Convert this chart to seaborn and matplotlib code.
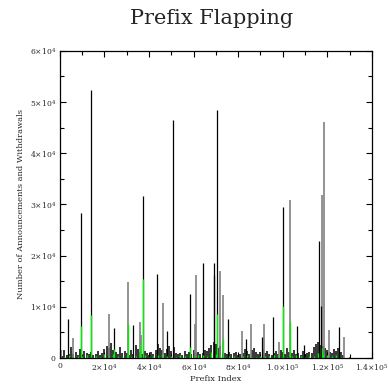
import numpy as np
import matplotlib
matplotlib.use("Agg")
import matplotlib.pyplot as plt
import seaborn as sns
from matplotlib.ticker import MultipleLocator

# background activity, one value per 1000 prefixes (0 .. 127000)
noise = [
    900, 400, 1500, 600, 800, 2200, 700, 1200, 500, 1800,
    600, 1400, 900, 700, 1100, 500, 800, 1300, 600, 1000,
    1700, 2400, 1900, 3000, 1500, 1200, 800, 2100, 900, 1400,
    1000, 600, 1600, 800, 2500, 1800, 1100, 700, 1300, 900,
    600, 1200, 800, 1500, 2700, 2000, 1600, 900, 1800, 2300,
    1400, 2200, 1000, 700, 900, 600, 1300, 800, 1100, 700,
    1500, 900, 1200, 800, 1000, 1600, 1400, 2000, 2600, 3200,
    2800, 1900, 2400, 1300, 1000, 800, 1200, 700, 900, 1100,
    600, 800, 1000, 1800, 1300, 700, 1500, 2000, 1100, 800,
    1200, 1700, 900, 1400, 800, 600, 1000, 1300, 700, 1600,
    1100, 800, 1900, 1200, 900, 1500, 700, 1000, 600, 1300,
    800, 900, 1200, 1000, 2200, 2800, 3100, 2600, 2400, 2000,
    1500, 1200, 900, 1700, 1400, 2000, 1100, 600,
]
noise_idx = np.arange(len(noise)) * 1000

# green background, one value per 2000 prefixes
green = [
    300, 200, 500, 250, 400, 350, 600, 300, 450, 200,
    800, 400, 700, 350, 300, 500, 250, 400, 900, 600,
    300, 450, 500, 700, 400, 350, 300, 550, 400, 300,
    350, 600, 500, 400, 1100, 800, 500, 300, 450, 350,
    300, 400, 500, 250, 300, 450, 400, 350, 500, 600,
    400, 300, 350, 500, 450, 300, 400, 350, 900, 700,
    500, 400, 600, 300,
]
green_idx = np.arange(len(green)) * 2000

# large spikes
black_x = [3740, 9270, 13760, 24380, 32900, 37390, 43370, 47860, 50550,
           58480, 64020, 69100, 69300, 70600, 75530, 83460, 90490, 95720,
           99920, 106200, 109340, 116220, 117100, 125340, 129800]
black_y = [7600, 28240, 52350, 5800, 6470, 31630, 16400, 5300, 46400,
           12550, 18560, 16270, 18560, 48500, 7650, 3700, 4180, 8100,
           29540, 6270, 2500, 22940, 10070, 6140, 300]

gray_x = [300, 5680, 22000, 30360, 35900, 36300, 46070, 60430, 61020,
          71800, 73300, 81660, 85700, 91540, 98270, 103200, 117700,
          118460, 120850, 127430]
gray_y = [1500, 3900, 8560, 14770, 7100, 4500, 10720, 6670, 16210,
          16930, 12350, 5300, 6670, 6670, 3200, 30790, 31760,
          46010, 5490, 4180]

green_x = [9270, 13760, 24300, 30360, 36000, 37390, 58480, 70600, 73300,
           99920, 103200, 117700]
green_y = [6270, 8430, 1700, 6670, 2800, 15490, 2200, 8630, 3700,
           10200, 7000, 2000]

x_ticks = [0, 20000, 40000, 60000, 80000, 100000, 120000, 140000]
x_labels = ["0", r"$2{\times}10^4$", r"$4{\times}10^4$", r"$6{\times}10^4$",
            r"$8{\times}10^4$", r"$1.0{\times}10^5$", r"$1.2{\times}10^5$",
            r"$1.4{\times}10^5$"]
y_ticks = [0, 10000, 20000, 30000, 40000, 50000, 60000]
y_labels = ["0", r"$1{\times}10^4$", r"$2{\times}10^4$", r"$3{\times}10^4$",
            r"$4{\times}10^4$", r"$5{\times}10^4$", r"$6{\times}10^4$"]

sns.set_style("ticks")
plt.rcParams["font.family"] = ["DejaVu Serif"]
plt.rcParams["mathtext.fontset"] = "dejavuserif"

fig = plt.figure(figsize=(3.89, 3.85), dpi=100)
ax = fig.add_axes([0.154, 0.070, 0.802, 0.798])

ax.vlines(noise_idx, 0, noise, color="black", linewidth=1.1)
ax.vlines(gray_x, 0, gray_y, color="#808080", linewidth=1.2)
ax.vlines(black_x, 0, black_y, color="black", linewidth=0.9)
ax.vlines(green_idx, 0, green, color="#00ee00", linewidth=1.0)
ax.vlines(green_x, 0, green_y, color="#00ee00", linewidth=1.0)

ax.set_xlim(0, 140000)
ax.set_ylim(0, 60000)
ax.set_xticks(x_ticks)
ax.set_xticklabels(x_labels)
ax.set_yticks(y_ticks)
ax.set_yticklabels(y_labels)
ax.xaxis.set_minor_locator(MultipleLocator(10000))
ax.yaxis.set_minor_locator(MultipleLocator(5000))
ax.tick_params(which="both", direction="in", top=True, right=True,
               labelsize=5.5, width=0.8, color="black", pad=3)
ax.tick_params(which="major", length=4)
ax.tick_params(which="minor", length=3)
for s in ax.spines.values():
    s.set_visible(True)
    s.set_linewidth(0.9)
    s.set_color("black")

ax.set_xlabel("Prefix Index", fontsize=6, labelpad=1)
ax.set_ylabel("Number of Announcements and Withdrawals", fontsize=6, labelpad=3)
fig.text(0.545, 0.953, "Prefix Flapping", ha="center", va="center",
         fontsize=15, family="DejaVu Serif")

fig.savefig("out.png", dpi=100)
